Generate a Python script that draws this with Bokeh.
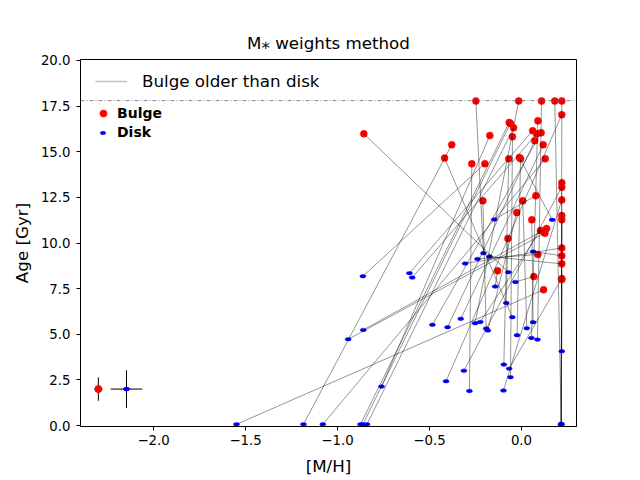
from bokeh.plotting import figure
from bokeh.models import Range1d, FixedTicker, Span, Legend, LegendItem, ColumnDataSource, Title
from bokeh.embed import file_html
from bokeh.resources import INLINE

# ---- data (bulge -> disk pairs) ----
bulge_mh = [-0.248, -0.015, 0.109, 0.181, 0.219, -0.857, -0.379, -0.418, -0.270, -0.199,
            -0.172, -0.067, -0.060, -0.043, -0.049, -0.069, -0.011, -0.005, 0.089, 0.061,
            0.082, 0.107, 0.072, 0.118, 0.129, 0.219, 0.219, 0.219, 0.219, -0.210,
            0.007, 0.078, -0.026, 0.056, 0.219, 0.219, 0.103, 0.136, 0.127, -0.074,
            0.089, 0.219, 0.219, 0.219, -0.130, 0.067, 0.219, 0.219, 0.120]
bulge_age = [17.78, 17.78, 17.78, 17.78, 17.78, 15.98, 15.38, 14.65, 14.34, 14.34,
             15.89, 16.60, 16.55, 16.31, 15.82, 14.61, 14.68, 14.62, 16.69, 16.15,
             15.98, 16.04, 15.60, 15.38, 14.61, 17.03, 13.30, 13.06, 12.36, 12.31,
             12.31, 12.59, 11.67, 11.27, 11.50, 11.27, 10.68, 10.79, 10.54, 10.25,
             9.37, 9.73, 9.30, 8.86, 8.48, 8.16, 8.00, 8.05, 7.44]
disk_mh = [-0.207, -0.252, 0.087, 0.216, 0.216, -0.071, -1.185, -0.050, -0.283, -0.862,
           -0.761, -0.875, -0.862, -0.840, -0.060, -0.096, 0.167, -0.024, 0.054, -0.609,
           -0.594, -0.484, -0.402, -0.330, -1.080, -0.410, 0.219, -0.313, -0.098, -0.192,
           0.029, -0.148, -0.183, 0.063, 0.216, 0.216, -0.224, -0.860, -0.942, -0.083,
           -0.239, -0.306, 0.063, -0.174, -0.143, -0.033, 0.216, -0.067, -1.549]
disk_age = [9.44, 5.61, 4.71, 0.08, 0.06, 8.40, 0.07, 5.94, 1.90, 8.18,
            2.14, 0.07, 0.07, 0.07, 2.65, 3.34, 11.27, 4.95, 4.80, 8.35,
            8.11, 5.52, 5.39, 5.85, 0.07, 2.43, 4.07, 3.01, 1.92, 5.32,
            5.33, 11.29, 5.21, 5.66, 0.07, 0.10, 5.68, 5.24, 4.73, 6.72,
            9.13, 8.88, 9.53, 9.26, 7.62, 7.87, 0.05, 3.12, 0.07]

# typical uncertainties shown in the corner
err_bulge_mh, err_bulge_age, err_bulge_dmh, err_bulge_dage = [-2.30], [2.0], [0.023], [0.64]
err_disk_mh, err_disk_age, err_disk_dmh, err_disk_dage = [-2.147], [2.0], [0.086], [1.03]

max_age = 17.8
x_ticks = [-2.0, -1.5, -1.0, -0.5, 0.0]
y_ticks = [0.0, 2.5, 5.0, 7.5, 10.0, 12.5, 15.0, 17.5, 20.0]
x_lim = (-2.397, 0.299)
y_lim = (-0.05, 20.05)

FONT = "DejaVu Sans"

p = figure(width=640, height=480, output_backend="svg", toolbar_location=None,
           x_range=Range1d(*x_lim), y_range=Range1d(*y_lim),
           min_border_left=80, min_border_right=64, min_border_top=59, min_border_bottom=54)
p.grid.visible = False
p.outline_line_color = "black"
p.outline_line_width = 1
p.outline_line_alpha = 1
p.background_fill_color = "white"
p.border_fill_color = "white"

for ax, ticks in ((p.xaxis, x_ticks), (p.yaxis, y_ticks)):
    ax.ticker = FixedTicker(ticks=ticks)
    ax.major_label_overrides = {t: f"{t:.1f}".replace("-", "\u2212") for t in ticks}
    ax.minor_tick_line_color = None
    ax.major_tick_in = 0
    ax.major_tick_out = 4
    ax.major_tick_line_color = "black"
    ax.axis_line_color = "black"
    ax.major_label_text_font = FONT
    ax.major_label_text_font_size = "13.3px"
    ax.major_label_text_color = "black"
    ax.axis_label_text_font = FONT
    ax.axis_label_text_font_size = "16.7px"
    ax.axis_label_text_font_style = "normal"
    ax.axis_label_text_color = "black"
p.xaxis.axis_label = "[M/H]"
p.yaxis.axis_label = "Age [Gyr]"
p.xaxis.major_label_standoff = 4
p.yaxis.major_label_standoff = 6
p.xaxis.axis_label_standoff = 8
p.yaxis.axis_label_standoff = 6

p.add_layout(Span(location=max_age, dimension="width", line_color="#555555",
                  line_width=0.7, line_dash="4 2 1 2"))

src = ColumnDataSource(dict(bx=bulge_mh, by=bulge_age, dx=disk_mh, dy=disk_age))

r_bulge = p.scatter("bx", "by", source=src, size=7, fill_color="red", line_color="red",
                    line_width=0.5)
r_disk = p.ellipse("dx", "dy", source=src, width=6, height=3.5, width_units="screen",
                   height_units="screen", fill_color="blue", line_color="blue", line_width=0.5)
p.segment("bx", "by", "dx", "dy", source=src, line_color="black", line_alpha=0.6,
          line_width=0.7)

# error bars
esrc_b = ColumnDataSource(dict(x=err_bulge_mh, y=err_bulge_age, dx=err_bulge_dmh, dy=err_bulge_dage))
esrc_d = ColumnDataSource(dict(x=err_disk_mh, y=err_disk_age, dx=err_disk_dmh, dy=err_disk_dage))
for es in (esrc_b, esrc_d):
    d = es.data
    es.data.update(x0=[d["x"][0] - d["dx"][0]], x1=[d["x"][0] + d["dx"][0]],
                   y0=[d["y"][0] - d["dy"][0]], y1=[d["y"][0] + d["dy"][0]])
    p.segment("x0", "y", "x1", "y", source=es, line_color="black", line_width=1)
    p.segment("x", "y0", "x", "y1", source=es, line_color="black", line_width=1)
p.scatter("x", "y", source=esrc_b, size=7, fill_color="red", line_color="red")
p.ellipse("x", "y", source=esrc_d, width=6, height=3.5, width_units="screen",
          height_units="screen", fill_color="blue", line_color="blue")

# legend 1: line (proxy renderer, no visible data)
r_line = p.line([float("nan")], [float("nan")], line_color="#bfbfbf", line_width=1.5)
leg1 = Legend(items=[LegendItem(label="Bulge older than disk", renderers=[r_line])],
              location=(15, 335), orientation="vertical", border_line_color=None,
              background_fill_alpha=0, padding=0, margin=0, glyph_width=32, glyph_height=20,
              label_standoff=15, label_text_font=FONT, label_text_font_size="16.7px",
              label_height=20, label_text_color="black")
p.add_layout(leg1)

leg2 = Legend(items=[LegendItem(label="Bulge", renderers=[r_bulge])],
              location=(14, 304), orientation="vertical", border_line_color=None,
              background_fill_alpha=0, padding=0, margin=0, glyph_width=18, glyph_height=18,
              label_standoff=5, label_text_font=FONT, label_text_font_size="14px",
              label_text_font_style="bold", label_height=18, label_text_color="black")
p.add_layout(leg2)
leg3 = Legend(items=[LegendItem(label="Disk", renderers=[r_disk])],
              location=(19, 286), orientation="vertical", border_line_color=None,
              background_fill_alpha=0, padding=0, margin=0, glyph_width=7, glyph_height=7,
              label_standoff=11, label_text_font=FONT, label_text_font_size="14px",
              label_text_font_style="bold", label_height=16, label_text_color="black")
p.add_layout(leg3)

# title
p.add_layout(Title(text="M\u204e weights method", align="center", standoff=14,
                   text_font=FONT, text_font_size="16.7px", text_font_style="normal",
                   text_color="black"), "above")

open("out.html", "w").write(file_html(p, INLINE))
